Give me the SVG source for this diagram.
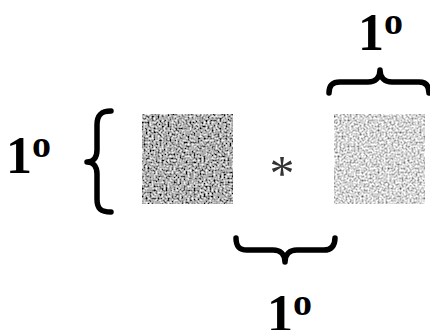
<svg xmlns="http://www.w3.org/2000/svg" width="430" height="330" viewBox="0 0 430 330">
<style>
.lbl{font-family:"Liberation Serif",serif;font-weight:bold;font-size:52px;fill:#000}
.sup{font-size:38px}
.brace{fill:none;stroke:#000;stroke-width:5.5;stroke-linecap:round;stroke-linejoin:round}
</style>
<defs>
<filter id="noiseDark" filterUnits="objectBoundingBox" x="0" y="0" width="1" height="1">
<feTurbulence type="fractalNoise" baseFrequency="0.5" numOctaves="2" seed="3"/>
<feColorMatrix type="matrix" values="1.9 0 0 0 -0.52  1.9 0 0 0 -0.52  1.9 0 0 0 -0.52  0 0 0 0 1"/>
<feGaussianBlur stdDeviation="0.55"/>
</filter>
<filter id="noiseLight" filterUnits="objectBoundingBox" x="0" y="0" width="1" height="1">
<feTurbulence type="fractalNoise" baseFrequency="0.5" numOctaves="2" seed="8"/>
<feColorMatrix type="matrix" values="1.7 0 0 0 -0.17  1.7 0 0 0 -0.17  1.7 0 0 0 -0.17  0 0 0 0 1"/>
<feGaussianBlur stdDeviation="0.55"/>
</filter>
</defs>
<rect width="430" height="330" fill="#fff"/>
<g id="patch-left"><rect x="142" y="114" width="91" height="90" fill="#999" filter="url(#noiseDark)"/></g>
<g id="patch-right"><rect x="334" y="114" width="91" height="90" fill="#bbb" filter="url(#noiseLight)"/></g>
<g id="fixation"><text x="282" y="190" text-anchor="middle" font-family="Liberation Serif,serif" font-size="50" fill="#333">*</text></g>
<g id="connectors">
<path class="brace" d="M111,111 C101,111 97,115 97,125 L97,150 C97,158 93,162 87,162 C93,162 97,166 97,174 L97,199 C97,209 101,212 111,212"/>
<path class="brace" d="M329,93 C329,86 332,82 340,82 L368,82 C375,82 380,78 380,70 C380,78 385,82 392,82 L419,82 C426,82 429,86 429,93"/>
<path class="brace" d="M236,238 C236,246 239,250 247,250 L273,250 C280,250 285,254 285,262 C285,254 290,250 297,250 L324,250 C331,250 335,246 335,238"/>
</g>
<g id="label-left"><text class="lbl" x="6" y="173">1<tspan class="sup" dy="-16">o</tspan></text></g>
<g id="label-top"><text class="lbl" x="358" y="50">1<tspan class="sup" dy="-16">o</tspan></text></g>
<g id="label-bottom"><text class="lbl" x="267" y="331">1<tspan class="sup" dy="-16">o</tspan></text></g>
</svg>
